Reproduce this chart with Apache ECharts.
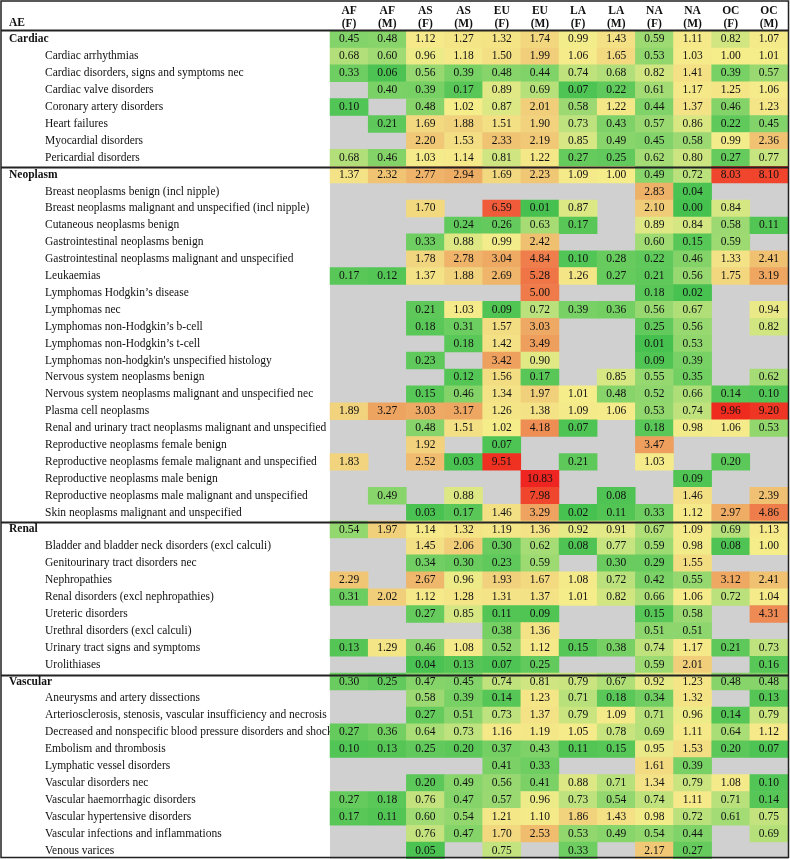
<!DOCTYPE html>
<html><head><meta charset="utf-8">
<script src="https://cdn.jsdelivr.net/npm/echarts@6/dist/echarts.min.js"></script>
<style>html,body{margin:0;padding:0;background:#fff}#c{width:790px;height:859px}</style>
</head><body><div id="c"></div><script>
// ---- tick labels (columns) ----
const columnLabels = ['AF\n(F)','AF\n(M)','AS\n(F)','AS\n(M)','EU\n(F)','EU\n(M)','LA\n(F)','LA\n(M)','NA\n(F)','NA\n(M)','OC\n(F)','OC\n(M)'];
const N = null;

// ---- Cardiac ----
const cardiacLabels = ['Cardiac','Cardiac arrhythmias','Cardiac disorders, signs and symptoms nec','Cardiac valve disorders','Coronary artery disorders','Heart failures','Myocardial disorders','Pericardial disorders'];
const cardiacValues = [
 [0.45,0.48,1.12,1.27,1.32,1.74,0.99,1.43,0.59,1.11,0.82,1.07],
 [0.68,0.60,0.96,1.18,1.50,1.99,1.06,1.65,0.53,1.03,1.00,1.01],
 [0.33,0.06,0.56,0.39,0.48,0.44,0.74,0.68,0.82,1.41,0.39,0.57],
 [N,0.40,0.39,0.17,0.89,0.69,0.07,0.22,0.61,1.17,1.25,1.06],
 [0.10,N,0.48,1.02,0.87,2.01,0.58,1.22,0.44,1.37,0.46,1.23],
 [N,0.21,1.69,1.88,1.51,1.90,0.73,0.43,0.57,0.86,0.22,0.45],
 [N,N,2.20,1.53,2.33,2.19,0.85,0.49,0.45,0.58,0.99,2.36],
 [0.68,0.46,1.03,1.14,0.81,1.22,0.27,0.25,0.62,0.80,0.27,0.77]
];

// ---- Neoplasm ----
const neoplasmLabels = ['Neoplasm','Breast neoplasms benign (incl nipple)','Breast neoplasms malignant and unspecified (incl nipple)','Cutaneous neoplasms benign','Gastrointestinal neoplasms benign','Gastrointestinal neoplasms malignant and unspecified','Leukaemias','Lymphomas Hodgkin\u2019s disease','Lymphomas nec','Lymphomas non-Hodgkin\u2019s b-cell','Lymphomas non-Hodgkin\u2019s t-cell',"Lymphomas non-hodgkin's unspecified histology",'Nervous system neoplasms benign','Nervous system neoplasms malignant and unspecified nec','Plasma cell neoplasms','Renal and urinary tract neoplasms malignant and unspecified','Reproductive neoplasms female benign','Reproductive neoplasms female malignant and unspecified','Reproductive neoplasms male benign','Reproductive neoplasms male malignant and unspecified','Skin neoplasms malignant and unspecified'];
const neoplasmValues = [
 [1.37,2.32,2.77,2.94,1.69,2.23,1.09,1.00,0.49,0.72,8.03,8.10],
 [N,N,N,N,N,N,N,N,2.83,0.04,N,N],
 [N,N,1.70,N,6.59,0.01,0.87,N,2.10,0.00,0.84,N],
 [N,N,N,0.24,0.26,0.63,0.17,N,0.89,0.84,0.58,0.11],
 [N,N,0.33,0.88,0.99,2.42,N,N,0.60,0.15,0.59,N],
 [N,N,1.78,2.78,3.04,4.84,0.10,0.28,0.22,0.46,1.33,2.41],
 [0.17,0.12,1.37,1.88,2.69,5.28,1.26,0.27,0.21,0.56,1.75,3.19],
 [N,N,N,N,N,5.00,N,N,0.18,0.02,N,N],
 [N,N,0.21,1.03,0.09,0.72,0.39,0.36,0.56,0.67,N,0.94],
 [N,N,0.18,0.31,1.57,3.03,N,N,0.25,0.56,N,0.82],
 [N,N,N,0.18,1.42,3.49,N,N,0.01,0.53,N,N],
 [N,N,0.23,N,3.42,0.90,N,N,0.09,0.39,N,N],
 [N,N,N,0.12,1.56,0.17,N,0.85,0.55,0.35,N,0.62],
 [N,N,0.15,0.46,1.34,1.97,1.01,0.48,0.52,0.66,0.14,0.10],
 [1.89,3.27,3.03,3.17,1.26,1.38,1.09,1.06,0.53,0.74,9.96,9.20],
 [N,N,0.48,1.51,1.02,4.18,0.07,N,0.18,0.98,1.06,0.53],
 [N,N,1.92,N,0.07,N,N,N,3.47,N,N,N],
 [1.83,N,2.52,0.03,9.51,N,0.21,N,1.03,N,0.20,N],
 [N,N,N,N,N,10.83,N,N,N,0.09,N,N],
 [N,0.49,N,0.88,N,7.98,N,0.08,N,1.46,N,2.39],
 [N,N,0.03,0.17,1.46,3.29,0.02,0.11,0.33,1.12,2.97,4.86]
];

// ---- Renal ----
const renalLabels = ['Renal','Bladder and bladder neck disorders (excl calculi)','Genitourinary tract disorders nec','Nephropathies','Renal disorders (excl nephropathies)','Ureteric disorders','Urethral disorders (excl calculi)','Urinary tract signs and symptoms','Urolithiases'];
const renalValues = [
 [0.54,1.97,1.14,1.32,1.19,1.36,0.92,0.91,0.67,1.09,0.69,1.13],
 [N,N,1.45,2.06,0.30,0.62,0.08,0.77,0.59,0.98,0.08,1.00],
 [N,N,0.34,0.30,0.23,0.59,N,0.30,0.29,1.55,N,N],
 [2.29,N,2.67,0.96,1.93,1.67,1.08,0.72,0.42,0.55,3.12,2.41],
 [0.31,2.02,1.12,1.28,1.31,1.37,1.01,0.82,0.66,1.06,0.72,1.04],
 [N,N,0.27,0.85,0.11,0.09,N,N,0.15,0.58,N,4.31],
 [N,N,N,N,0.38,1.36,N,N,0.51,0.51,N,N],
 [0.13,1.29,0.46,1.08,0.52,1.12,0.15,0.38,0.74,1.17,0.21,0.73],
 [N,N,0.04,0.13,0.07,0.25,N,N,0.59,2.01,N,0.16]
];

// ---- Vascular ----
const vascularLabels = ['Vascular','Aneurysms and artery dissections','Arteriosclerosis, stenosis, vascular insufficiency and necrosis','Decreased and nonspecific blood pressure disorders and shock','Embolism and thrombosis','Lymphatic vessel disorders','Vascular disorders nec','Vascular haemorrhagic disorders','Vascular hypertensive disorders','Vascular infections and inflammations','Venous varices'];
const vascularValues = [
 [0.30,0.25,0.47,0.45,0.74,0.81,0.79,0.67,0.92,1.23,0.48,0.48],
 [N,N,0.58,0.39,0.14,1.23,0.71,0.18,0.34,1.32,N,0.13],
 [N,N,0.27,0.51,0.73,1.37,0.79,1.09,0.71,0.96,0.14,0.79],
 [0.27,0.36,0.64,0.73,1.16,1.19,1.05,0.78,0.69,1.11,0.64,1.12],
 [0.10,0.13,0.25,0.20,0.37,0.43,0.11,0.15,0.95,1.53,0.20,0.07],
 [N,N,N,N,0.41,0.33,N,N,1.61,0.39,N,N],
 [N,N,0.20,0.49,0.56,0.41,0.88,0.71,1.34,0.79,1.08,0.10],
 [0.27,0.18,0.76,0.47,0.57,0.96,0.73,0.54,0.74,1.11,0.71,0.14],
 [0.17,0.11,0.60,0.54,1.21,1.10,1.86,1.43,0.98,0.72,0.61,0.75],
 [N,N,0.76,0.47,1.70,2.53,0.53,0.49,0.54,0.44,N,0.69],
 [N,N,0.05,N,0.75,N,0.33,N,2.17,0.27,N,N]
];

// ---- build ----
const groups = [
  [cardiacLabels, cardiacValues],
  [neoplasmLabels, neoplasmValues],
  [renalLabels, renalValues],
  [vascularLabels, vascularValues]
];
const rowLabels = [], groupRows = new Set(), groupStarts = [];
const data = [];
groups.forEach(([labels, vals]) => {
  groupStarts.push(rowLabels.length);
  labels.forEach((lab, i) => {
    const r = rowLabels.length;
    if (i === 0) groupRows.add(r);
    rowLabels.push(lab);
    vals[i].forEach((v, c) => { if (v !== null) data.push([c, r, v]); });
  });
});

// colour scale (style)
const anchors = [
  [0,'#45c150'],[0.25,'#62ca5c'],[0.5,'#8ad56c'],[0.75,'#c2e37e'],[1.0,'#f5ec8a'],
  [1.5,'#f3df84'],[2.0,'#f1cf7a'],[3.0,'#eeab64'],[4.0,'#ee9156'],[5.0,'#ef7a4a'],
  [6.5,'#f05c3a'],[8.0,'#f0462e'],[10,'#ee2a1e'],[11,'#ee2420']
];
function h2r(h){return [1,3,5].map(i=>parseInt(h.substr(i,2),16));}
function colAt(v){
  for (let i=0;i<anchors.length-1;i++){
    const [a,ca]=anchors[i],[b,cb]=anchors[i+1];
    if (v>=a && v<=b){
      const t=(v-a)/(b-a), A=h2r(ca), B=h2r(cb);
      return 'rgb('+A.map((x,k)=>Math.round(x+(B[k]-x)*t)).join(',')+')';
    }
  }
  return anchors[anchors.length-1][1];
}
const stops=[]; for(let v=0; v<=11.0001; v+=0.125) stops.push(colAt(v));

const FONT = "'Liberation Serif','DejaVu Serif',serif";
const FS = 11.5;
const GRID_TOP = 31, GRID_LEFT = 330, GRID_RIGHT = 2, GRID_H = 830;
const rowH = GRID_H / rowLabels.length;

const chart = echarts.init(document.getElementById('c'));
const lines = [];
lines.push({type:'line', shape:{x1:1,y1:30.5,x2:789,y2:30.5}, style:{stroke:'#222',lineWidth:2}, z:100});
groupStarts.slice(1).forEach(k=>{
  const y = Math.round(GRID_TOP + k*rowH) + 0.5;
  lines.push({type:'line', shape:{x1:1,y1:y,x2:789,y2:y}, style:{stroke:'#222',lineWidth:2}, z:100});
});
lines.push({type:'rect', shape:{x:1,y:1,width:787.5,height:856.5}, style:{fill:null,stroke:'#222',lineWidth:1.5}, z:100});
lines.push({type:'text', left:9, top:17, style:{text:'AE', font:"bold 11.5px "+FONT, fill:'#111'}, z:100});

chart.setOption({
  backgroundColor:'#fff',
  animation:false,
  grid:{top:GRID_TOP, left:GRID_LEFT, right:GRID_RIGHT, height:GRID_H, show:true, backgroundColor:'#d0d0d0', borderWidth:0},
  xAxis:{type:'category', position:'top', data:columnLabels, axisLine:{show:false}, axisTick:{show:false}, splitLine:{show:false},
    axisLabel:{interval:0, margin:0, fontFamily:FONT, fontSize:FS, fontWeight:'bold', color:'#111', lineHeight:13}},
  yAxis:{type:'category', inverse:true, data:rowLabels, axisLine:{show:false}, axisTick:{show:false}, splitLine:{show:false},
    axisLabel:{interval:0, align:'left', margin:GRID_LEFT-9, fontFamily:FONT, fontSize:FS, color:'#111',
      formatter:(v,i)=> groupRows.has(i) ? '{g|'+v+'}' : '{s|'+v+'}',
      rich:{g:{fontWeight:'bold', fontFamily:FONT, fontSize:FS, color:'#111'}, s:{fontFamily:FONT, fontSize:FS, color:'#111', padding:[0,0,0,36]}}}},
  visualMap:{show:false, type:'continuous', min:0, max:11, dimension:2, seriesIndex:0, inRange:{color:stops}},
  series:[{type:'heatmap', data:data, itemStyle:{borderWidth:0},
    label:{show:true, formatter:p=>p.value[2].toFixed(2), fontFamily:FONT, fontSize:FS, color:'#111'},
    emphasis:{disabled:true}}],
  graphic: lines
});
</script></body></html>
